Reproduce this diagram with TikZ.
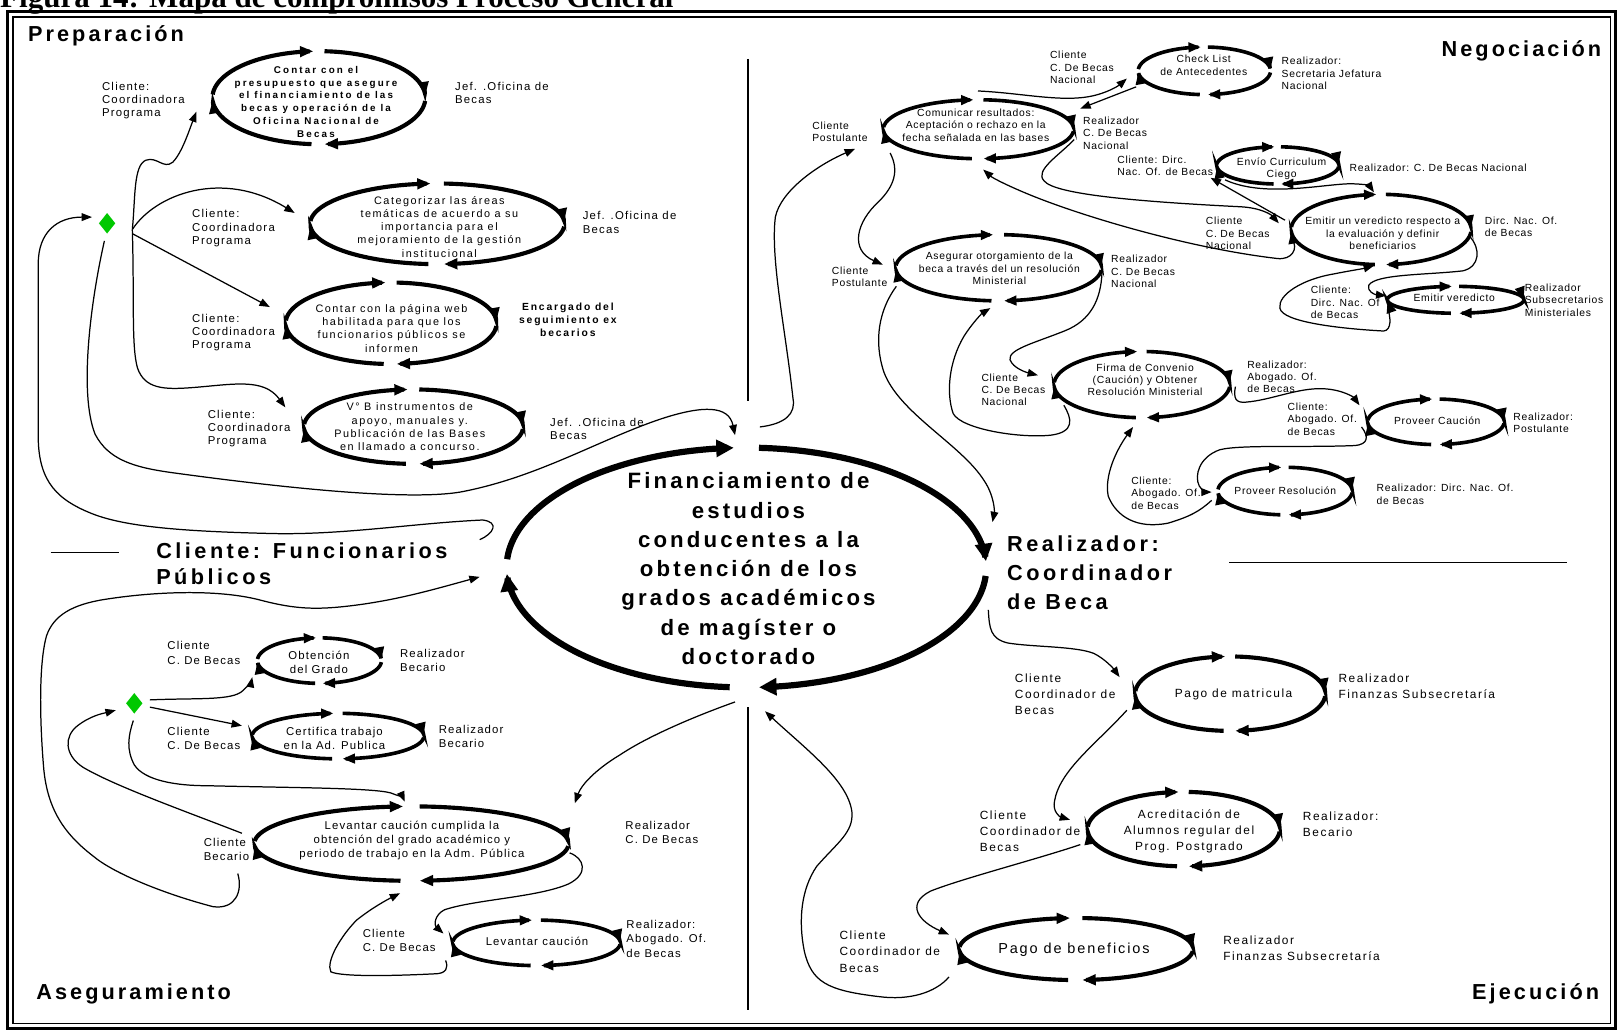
\documentclass[tikz,border=0pt]{standalone}
\usepackage{fontspec}
\setmainfont{Liberation Sans}
\newfontfamily\fsA[LetterSpace=11]{Liberation Sans}
\newfontfamily\fsB[LetterSpace=14]{Liberation Sans}
\newfontfamily\fsC[LetterSpace=22]{Liberation Sans}
\newfontfamily\fsD[LetterSpace=7]{Liberation Sans}
\newfontfamily\fsE[LetterSpace=13]{Liberation Sans}
\newfontfamily\fsF[LetterSpace=10]{Liberation Sans}
\newfontfamily\fsG[LetterSpace=18]{Liberation Sans}
\newfontfamily\fsH[LetterSpace=16]{Liberation Sans}
\newfontfamily\fsT{Liberation Serif}
\usetikzlibrary{arrows.meta,shapes.geometric}
\definecolor{dgreen}{RGB}{0,200,0}
\newcommand\xfP{\fsA\fontsize{11}{12.9}\selectfont}
\newcommand\xfPT{\fsB\fontsize{10.5}{12.8}\selectfont}
\newcommand\xfPB{\fsC\bfseries\fontsize{9.5}{12.3}\selectfont}
\newcommand\xfPE{\fsG\bfseries\fontsize{10}{12.9}\selectfont}
\newcommand\xfN{\fsD\fontsize{10}{12}\selectfont}
\newcommand\xfE{\fsE\fontsize{11.5}{15.5}\selectfont}
\newcommand\xfEB{\fsE\fontsize{14}{16}\selectfont}
\newcommand\xfA{\fsF\fontsize{11}{13.6}\selectfont}
\newcommand\xfSec{\fsB\bfseries\fontsize{21}{26}\selectfont}
\newcommand\xfCen{\fsB\bfseries\fontsize{21.5}{28.3}\selectfont}
\newcommand\xfFun{\fsH\bfseries\fontsize{21}{25}\selectfont}
\newcommand\xfRea{\fsH\bfseries\fontsize{21}{28}\selectfont}
\newcommand{\cmloop}[8]{%
  \coordinate (#1) at (#2,#3);
  \foreach \sa/\ea in {184/267,273/357,4/87,94/177}{%
    \draw[line width=#6pt,-{Triangle[length=#7pt,width=#8pt]}]
      plot[domain=\sa:\ea,samples=30,smooth] ({#2+#4*cos(\x)},{#3+#5*sin(\x)});
  }}
\begin{document}
\begin{tikzpicture}[x=1pt,y=-1pt,
  lbl/.style={inner sep=0pt,align=left,anchor=west},
  ctr/.style={inner sep=0pt,align=center},
  conn/.style={line width=1.2pt,-{Triangle[length=10pt,width=7.5pt]}},
  thin/.style={line width=1.2pt},
  dmd/.style={diamond,fill=dgreen,draw=none,minimum width=16pt,minimum height=20pt,inner sep=0pt}]
\clip (0,0) rectangle (1568,998);
\fill[white] (0,0) rectangle (1568,998);
% title and frame
\node[anchor=base west,inner sep=0pt,font=\fsT\bfseries\fontsize{30}{30}\selectfont] (title) at (0,7) {Figura 14: Mapa de compromisos Proceso General};
\draw[line width=3pt] (7,11.5) rectangle (1563,995);
\draw[line width=1.2pt] (12.5,16.5) rectangle (1558,990);
% dividers
\draw[thin] (723.5,57) -- (723.5,388);
\draw[thin] (723.5,684) -- (723.5,977);
\draw[thin] (49,534.3) -- (115,534.3);
\draw[line width=1.4pt] (1189,544.3) -- (1516,544.3);
% section titles
\node[anchor=base west,inner sep=0pt,font=\xfSec] (tprep) at (27,40) {Preparación};
\node[anchor=base east,inner sep=0pt,font=\xfSec] (tneg) at (1549,55) {Negociación};
\node[anchor=base west,inner sep=0pt,font=\xfSec] (tase) at (35,967) {Aseguramiento};
\node[anchor=base east,inner sep=0pt,font=\xfSec] (teje) at (1547,967) {Ejecución};
% central loop
\cmloop{c0}{722}{549}{232}{116}{6}{17}{16}
\node[ctr,font=\xfCen] (ctext) at (724,550) {Financiamiento de\\estudios\\conducentes a la\\obtención de los\\grados académicos\\de magíster o\\doctorado};
\node[lbl,font=\xfFun] (cfun) at (151,545) {Cliente: Funcionarios\\Públicos};
\node[lbl,font=\xfRea] (creal) at (974,554) {Realizador:\\Coordinador\\de Beca};
% ---------- Preparacion loops
\cmloop{p1}{308.5}{94.5}{103}{45}{4}{13}{10}
\cmloop{p2}{423}{216.5}{123}{39}{4}{13}{10}
\cmloop{p3}{378.3}{312.7}{102}{39.4}{4}{13}{10}
\cmloop{p4}{400}{412.7}{106}{36}{4}{13}{10}
\node[ctr,font=\xfPB] (p1t) at (305.7,98.4) {Contar con el\\presupuesto que asegure\\el financiamiento de las\\becas y operación de la\\Oficina Nacional de\\Becas};
\node[ctr,font=\xfPT] (p2t) at (425,219.3) {Categorizar las áreas\\temáticas de acuerdo a su\\importancia para el\\mejoramiento de la gestión\\institucional};
\node[ctr,font=\xfPT] (p3t) at (378.7,317.6) {Contar con la página web\\habilitada para que los\\funcionarios públicos se\\informen};
\node[ctr,font=\xfPT] (p4t) at (396.4,412.8) {V° B instrumentos de\\apoyo, manuales y.\\Publicación de las Bases\\en llamado a concurso.};
\node[lbl,font=\xfP] (p1c) at (98.5,97.4) {Cliente:\\Coordinadora\\Programa};
\node[lbl,font=\xfP] (p1r) at (440,90.2) {Jef. .Oficina de\\Becas};
\node[lbl,font=\xfP] (p2c) at (185.7,220.8) {Cliente:\\Coordinadora\\Programa};
\node[lbl,font=\xfP] (p2r) at (563.5,215.2) {Jef. .Oficina de\\Becas};
\node[lbl,font=\xfP] (p3c) at (185.7,321.8) {Cliente:\\Coordinadora\\Programa};
\node[ctr,font=\xfPE] (p3r) at (549.3,309.5) {Encargado del\\seguimiento ex\\becarios};
\node[lbl,font=\xfP] (p4c) at (200.8,414.7) {Cliente:\\Coordinadora\\Programa};
\node[lbl,font=\xfP] (p4r) at (532,415) {Jef. .Oficina de\\Becas};
\node[dmd] (d1) at (103.6,216) {};
% Preparacion connectors
\coordinate (j1) at (128,222);
\coordinate (j2) at (128,226);
\coordinate (p1in) at (190,108);
\coordinate (p2in) at (285,206);
\coordinate (p3in) at (261,297);
\coordinate (p4in) at (276,394);
\draw[conn] (j1) .. controls (150,188) and (215,163) .. (p2in);
\draw[conn] (j2) -- (p3in);
\draw[conn] (j1) .. controls (131,192) and (129,160) .. (141,155) .. controls (152,151) and (158,164) .. (167,157) .. controls (176,148) and (183,126) .. (p1in);
\draw[conn] (j1) .. controls (130,290) and (127,335) .. (133,356) .. controls (140,376) and (158,377) .. (185,375) .. controls (225,372) and (255,365) .. (p4in);
\coordinate (hk) at (464,522);
\coordinate (d1in) at (89,210);
\draw[conn] (hk) .. controls (478,516) and (483,505) .. (467,503) .. controls (400,506) and (330,518) .. (260,516) .. controls (180,514) and (125,510) .. (92,498) .. controls (55,484) and (38,466) .. (37,425) -- (37,255) .. controls (37,225) and (55,210) .. (d1in);
\coordinate (d1out) at (101,233);
\coordinate (c0top) at (711,421);
\draw[conn] (d1out) .. controls (88,290) and (76,380) .. (92,420) .. controls (105,445) and (130,452) .. (165,457) .. controls (260,470) and (390,485) .. (445,476) .. controls (520,462) and (580,425) .. (640,405) .. controls (680,392) and (705,392) .. (c0top);
% ---------- Negociacion loops
\cmloop{n1}{1165}{68.5}{64}{23}{3.5}{12}{9}
\cmloop{n2}{946.5}{125}{92}{28.5}{3.5}{12}{9}
\cmloop{n3}{1236}{160}{59}{18}{3.5}{12}{9}
\cmloop{n4}{1336}{222}{87}{34}{3.5}{12}{9}
\cmloop{n5}{1408}{290}{66}{13}{3.5}{12}{9}
\cmloop{n6}{966}{259}{99.5}{32}{3.5}{12}{9}
\cmloop{n7}{1104.6}{372}{85}{32}{3.5}{12}{9}
\cmloop{n8}{1389}{408}{66}{22}{3.5}{12}{9}
\cmloop{n9}{1243}{475}{65}{23}{3.5}{12}{9}
\node[ctr,font=\xfN] (n1t) at (1164.4,63.3) {Check List\\de Antecedentes};
\node[ctr,font=\xfN] (n2t) at (943.9,121) {Comunicar resultados:\\Aceptación o rechazo en la\\fecha señalada en las bases};
\node[ctr,font=\xfN] (n3t) at (1239.7,163.3) {Envío Curriculum\\Ciego};
\node[ctr,font=\xfN] (n4t) at (1337.5,225.7) {Emitir un veredicto respecto a\\la evaluación y definir\\beneficiarios};
\node[ctr,font=\xfN] (n5t) at (1406.7,287.6) {Emitir veredicto};
\node[ctr,font=\xfN] (n6t) at (966.7,259.9) {Asegurar otorgamiento de la\\beca a través del un resolución\\Ministerial};
\node[ctr,font=\xfN] (n7t) at (1107.6,367.4) {Firma de Convenio\\(Caución) y Obtener\\Resolución Ministerial};
\node[ctr,font=\xfN] (n8t) at (1390.3,407.3) {Proveer Caución};
\node[ctr,font=\xfN] (n9t) at (1243.3,474.6) {Proveer Resolución};
\node[lbl,font=\xfN] (n1c) at (1015.5,65.3) {Cliente\\C. De Becas\\Nacional};
\node[lbl,font=\xfN] (n1r) at (1239.6,71) {Realizador:\\Secretaria Jefatura\\Nacional};
\node[lbl,font=\xfN] (n2c) at (785.6,127.4) {Cliente\\Postulante};
\node[lbl,font=\xfN] (n2r) at (1047.6,128.8) {Realizador\\C. De Becas\\Nacional};
\node[lbl,font=\xfN] (n3c) at (1080.6,160.5) {Cliente: Dirc.\\Nac. Of. de Becas};
\node[lbl,font=\xfN] (n3r) at (1305.3,162.8) {Realizador: C. De Becas Nacional};
\node[lbl,font=\xfN] (n4c) at (1166.2,225.7) {Cliente\\C. De Becas\\Nacional};
\node[lbl,font=\xfN] (n4r) at (1436.1,219.3) {Dirc. Nac. Of.\\de Becas};
\node[lbl,font=\xfN] (n5c) at (1267.7,292.6) {Cliente:\\Dirc. Nac. Of\\de Becas};
\node[lbl,font=\xfN] (n5r) at (1474.8,290.2) {Realizador\\Subsecretarios\\Ministeriales};
\node[lbl,font=\xfN] (n6c) at (804.5,267.9) {Cliente\\Postulante};
\node[lbl,font=\xfN] (n6r) at (1074.7,262.5) {Realizador\\C. De Becas\\Nacional};
\node[lbl,font=\xfN] (n7c) at (949.2,377.1) {Cliente\\C. De Becas\\Nacional};
\node[lbl,font=\xfN] (n7r) at (1206.3,364.4) {Realizador:\\Abogado. Of.\\de Becas};
\node[lbl,font=\xfN] (n8c) at (1245.3,405.5) {Cliente:\\Abogado. Of.\\de Becas};
\node[lbl,font=\xfN] (n8r) at (1463.7,409.2) {Realizador:\\Postulante};
\node[lbl,font=\xfN] (n9c) at (1094.1,477.1) {Cliente:\\Abogado. Of.\\de Becas};
\node[lbl,font=\xfN] (n9r) at (1331.5,478) {Realizador: Dirc. Nac. Of.\\de Becas};
% Negociacion connectors
\coordinate (k1s) at (735,413); \coordinate (k1e) at (827,144);
\draw[conn] (k1s) .. controls (760,410) and (770,400) .. (767,385) .. controls (760,320) and (745,250) .. (750,210) .. controls (755,185) and (790,160) .. (k1e);
\coordinate (k2s) at (861,148); \coordinate (k2e) at (854,256);
\draw[conn] (k2s) .. controls (870,165) and (865,180) .. (850,195) .. controls (828,215) and (822,242) .. (k2e);
\coordinate (k3s) at (946,88); \coordinate (k3e) at (1090,76);
\draw[conn] (k3s) .. controls (990,90) and (1030,100) .. (1060,92) .. controls (1075,88) and (1083,82) .. (k3e);
\coordinate (k4s) at (1099,84); \coordinate (k4e) at (1045,105);
\draw[conn] (k4s) -- (k4e);
\coordinate (k5s) at (1039,135); \coordinate (k5e) at (1237,216);
\draw[conn] (k5s) .. controls (1025,150) and (1000,165) .. (1010,175) .. controls (1020,188) and (1100,195) .. (1200,200) .. controls (1220,201) and (1230,208) .. (k5e);
\coordinate (k6s) at (1250,232); \coordinate (k6e) at (951,164);
\draw[conn] (k6s) .. controls (1256,240) and (1250,252) .. (1235,250) .. controls (1150,240) and (1050,210) .. (1000,190) .. controls (975,180) and (960,172) .. (k6e);
\coordinate (k7s) at (1185,174); \coordinate (k7e) at (1329,186);
\draw[conn] (k7s) .. controls (1220,190) and (1270,180) .. (1300,178) .. controls (1315,177) and (1325,180) .. (k7e);
\coordinate (k8s) at (1243,213); \coordinate (k8e) at (1171,172);
\draw[conn] (k8s) -- (k8e);
\coordinate (k9s) at (1422,229); \coordinate (k9e) at (1341,286);
\draw[conn] (k9s) .. controls (1432,240) and (1432,258) .. (1415,262) .. controls (1380,266) and (1330,265) .. (1324,276) .. controls (1322,282) and (1330,285) .. (k9e);
\coordinate (k10s) at (1343,300); \coordinate (k10e) at (1329,257);
\draw[conn] (k10s) .. controls (1346,312) and (1345,322) .. (1335,320) .. controls (1300,318) and (1240,312) .. (1238,298) .. controls (1236,285) and (1260,270) .. (1290,265) .. controls (1305,262) and (1318,260) .. (k10e);
\coordinate (k11s) at (867,277); \coordinate (k11e) at (960,505);
\draw[conn] (k11s) .. controls (850,300) and (845,330) .. (855,360) .. controls (870,400) and (930,430) .. (952,465) .. controls (962,480) and (962,495) .. (k11e);
\coordinate (k12s) at (1066,263); \coordinate (k12e) at (1004,363);
\draw[conn] (k12s) .. controls (1065,290) and (1055,310) .. (1030,320) .. controls (1000,332) and (975,338) .. (977,348) .. controls (980,356) and (992,360) .. (k12e);
\coordinate (k13s) at (1029,392); \coordinate (k13e) at (958,298);
\draw[conn] (k13s) .. controls (1037,405) and (1040,418) .. (1016,421) .. controls (985,424) and (930,415) .. (922,400) .. controls (915,380) and (918,350) .. (932,326) .. controls (940,313) and (950,303) .. (k13e);
\coordinate (k14s) at (1195,374); \coordinate (k14e) at (1315,392);
\draw[conn] (k14s) .. controls (1193,385) and (1195,390) .. (1205,389) .. controls (1230,387) and (1255,375) .. (1280,376) .. controls (1300,377) and (1310,385) .. (k14e);
\coordinate (k15s) at (1317,413); \coordinate (k15e) at (1172,476);
\draw[conn] (k15s) .. controls (1324,422) and (1324,430) .. (1310,431) .. controls (1260,433) and (1200,430) .. (1180,435) .. controls (1160,442) and (1155,460) .. (1160,470) .. controls (1163,475) and (1167,476) .. (k15e);
\coordinate (k16s) at (1172,484); \coordinate (k16e) at (1096,413);
\draw[conn] (k16s) .. controls (1160,495) and (1150,500) .. (1130,506) .. controls (1100,512) and (1080,500) .. (1072,480) .. controls (1068,460) and (1080,435) .. (k16e);
% ---------- Ejecucion
\cmloop{e1}{1190}{671}{92}{36}{4}{13}{10}
\cmloop{e2}{1145}{802}{93}{36}{4}{13}{10}
\cmloop{e3}{1041}{918}{113}{30}{4}{13}{10}
\node[ctr,font=\xfE] (e1t) at (1193.3,671.3) {Pago de matricula};
\node[ctr,font=\xfE] (e2t) at (1150.1,804.5) {Acreditación de\\Alumnos regular del\\Prog. Postgrado};
\node[ctr,font=\xfEB] (e3t) at (1038.8,919) {Pago de beneficios};
\node[lbl,font=\xfE] (e1c) at (981.5,671.2) {Cliente\\Coordinador de\\Becas};
\node[lbl,font=\xfE] (e1r) at (1294.6,663.7) {Realizador\\Finanzas Subsecretaría};
\node[lbl,font=\xfE] (e2c) at (947.6,804.5) {Cliente\\Coordinador de\\Becas};
\node[lbl,font=\xfE] (e2r) at (1260.1,797.5) {Realizador:\\Becario};
\node[lbl,font=\xfE] (e3c) at (811.9,920.6) {Cliente\\Coordinador de\\Becas};
\node[lbl,font=\xfE] (e3r) at (1183.1,917.4) {Realizador\\Finanzas Subsecretaría};
\coordinate (m1s) at (956,590); \coordinate (m1e) at (1083,655);
\draw[conn] (m1s) .. controls (957,608) and (958,618) .. (975,622) .. controls (1000,626) and (1040,625) .. (1058,632) .. controls (1070,638) and (1078,648) .. (m1e);
\coordinate (m2s) at (1090,687); \coordinate (m2e) at (1035,793);
\draw[conn] (m2s) .. controls (1060,720) and (1025,745) .. (1020,775) .. controls (1018,785) and (1025,790) .. (m2e);
\coordinate (m3s) at (1045,817); \coordinate (m3e) at (918,904);
\draw[conn] (m3s) .. controls (1000,832) and (930,850) .. (900,862) .. controls (875,875) and (890,892) .. (m3e);
\coordinate (m4s) at (918,945); \coordinate (m4e) at (740,688);
\draw[conn] (m4s) .. controls (905,960) and (880,968) .. (850,964) .. controls (800,958) and (785,950) .. (778,920) .. controls (772,890) and (775,860) .. (790,838) .. controls (810,815) and (826,805) .. (824,785) .. controls (820,755) and (780,725) .. (m4e);
% ---------- Aseguramiento
\cmloop{a1}{309}{639}{60}{22}{3.5}{12}{9}
\cmloop{a2}{327}{712}{83}{22}{3.5}{12}{9}
\cmloop{a3}{398}{816}{152}{36}{4}{13}{10}
\cmloop{a4}{519}{912}{81}{22}{3.5}{12}{9}
\node[ctr,font=\xfA] (a1t) at (308.5,640.3) {Obtención\\del Grado};
\node[ctr,font=\xfA] (a2t) at (323.5,714.7) {Certifica trabajo\\en la Ad. Publica};
\node[ctr,font=\xfA] (a3t) at (398.5,813) {Levantar caución cumplida la\\obtención del grado académico y\\periodo de trabajo en la Adm. Pública};
\node[ctr,font=\xfA] (a4t) at (519.5,910.9) {Levantar caución};
\node[lbl,font=\xfA] (a1c) at (161.8,631.6) {Cliente\\C. De Becas};
\node[lbl,font=\xfA] (a1r) at (386.8,638.4) {Realizador\\Becario};
\node[lbl,font=\xfA] (a2c) at (161.8,714.7) {Cliente\\C. De Becas};
\node[lbl,font=\xfA] (a2r) at (424.3,712.2) {Realizador\\Becario};
\node[lbl,font=\xfA] (a3c) at (196.9,821.4) {Cliente\\Becario};
\node[lbl,font=\xfA] (a3r) at (604.8,805) {Realizador\\C. De Becas};
\node[lbl,font=\xfA] (a4c) at (350.7,909.7) {Cliente\\C. De Becas};
\node[lbl,font=\xfA] (a4r) at (605.8,908.2) {Realizador:\\Abogado. Of.\\de Becas};
\node[dmd] (d2) at (129.9,680.3) {};
\coordinate (q1s) at (711,679); \coordinate (q1e) at (556,777);
\draw[conn] (q1s) .. controls (680,690) and (630,710) .. (600,730) .. controls (575,745) and (562,760) .. (q1e);
\coordinate (q2s) at (230,845); \coordinate (q2e) at (464,558);
\draw[conn] (q2s) .. controls (235,862) and (228,880) .. (206,877) .. controls (160,865) and (110,845) .. (90,828) .. controls (60,805) and (45,780) .. (42,740) .. controls (38,690) and (38,640) .. (45,615) .. controls (52,595) and (70,585) .. (100,580) .. controls (150,572) and (210,570) .. (250,580) .. controls (280,588) and (300,590) .. (330,587) .. controls (380,582) and (420,570) .. (q2e);
\coordinate (q3s) at (234,806); \coordinate (q3e) at (112,687);
\draw[conn] (q3s) .. controls (180,785) and (110,760) .. (80,742) .. controls (62,730) and (62,712) .. (75,702) .. controls (88,692) and (100,690) .. (q3e);
\coordinate (q4s) at (145,677); \coordinate (q4e) at (244,655);
\draw[conn] (q4s) .. controls (190,675) and (225,678) .. (235,668) .. controls (240,663) and (243,660) .. (q4e);
\coordinate (q5s) at (145,684); \coordinate (q5e) at (234,702);
\draw[conn] (q5s) -- (q5e);
\coordinate (q6s) at (129,697); \coordinate (q6e) at (391.5,775.5);
\draw[conn] (q6s) .. controls (124,712) and (122,725) .. (130,740) .. controls (140,755) and (170,760) .. (200,760) .. controls (280,762) and (360,762) .. (378,767) .. controls (386,770) and (390,772) .. (q6e);
\coordinate (q7s) at (551,825); \coordinate (q7e) at (429,903);
\draw[conn] (q7s) .. controls (565,830) and (570,845) .. (550,855) .. controls (520,868) and (460,870) .. (430,880) .. controls (420,885) and (420,895) .. (q7e);
\coordinate (q8s) at (431,929); \coordinate (q8e) at (387,864);
\draw[conn] (q8s) .. controls (434,936) and (432,942) .. (420,942) .. controls (380,944) and (330,945) .. (320,940) .. controls (315,930) and (330,905) .. (345,890) .. controls (360,878) and (375,870) .. (q8e);
\end{tikzpicture}
\end{document}
